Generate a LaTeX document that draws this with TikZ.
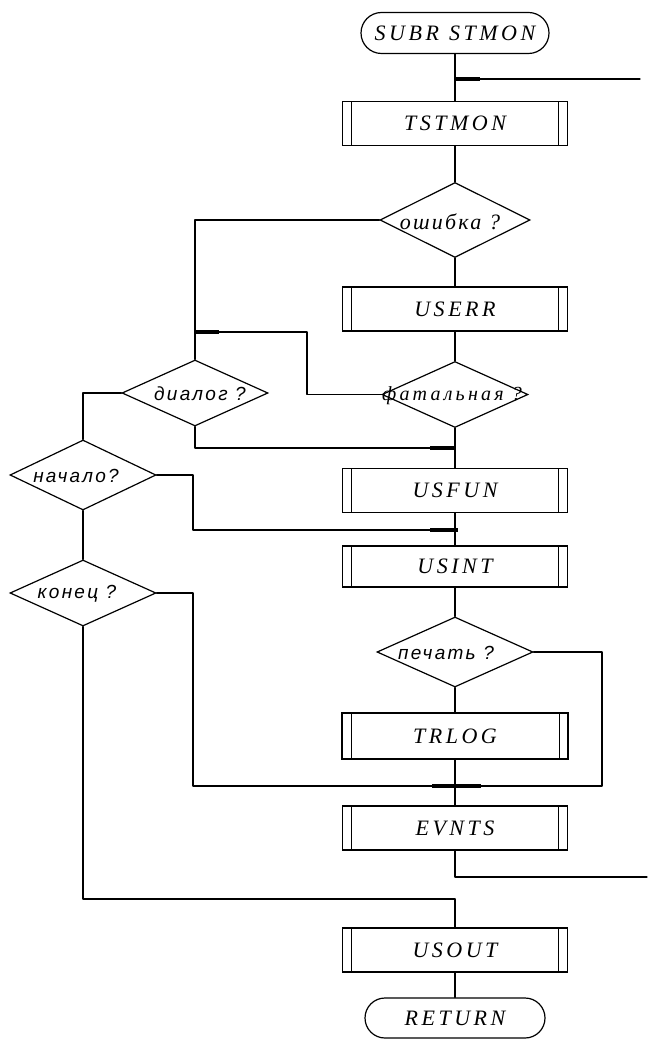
\documentclass[tikz,border=0pt]{standalone}
\usepackage{fontspec}
\setmainfont{Liberation Serif}
\newfontfamily\boxfont[LetterSpace=16]{Liberation Serif}
\newfontfamily\cursivefont[LetterSpace=10]{Liberation Serif}
\newfontfamily\askfont[LetterSpace=12]{Liberation Sans}
\usetikzlibrary{shapes.geometric,shapes.misc}
\tikzset{
  conn/.style={line width=1.1pt, line cap=round, line join=round},
  bar/.style={line width=3.6pt},
  proc/.style={draw, line width=1.2pt, rectangle, inner sep=0pt,
    minimum width=225pt, minimum height=44pt,
    font=\boxfont\itshape\fontsize{22}{22}\selectfont,
    path picture={
      \draw[line width=1pt] ([xshift=9pt]path picture bounding box.south west)
        -- ([xshift=9pt]path picture bounding box.north west);
      \draw[line width=1pt] ([xshift=-9pt]path picture bounding box.south east)
        -- ([xshift=-9pt]path picture bounding box.north east);
    }},
  term/.style={draw, line width=1.2pt, rounded rectangle, inner sep=0pt,
    minimum width=188pt, minimum height=41pt,
    font=\boxfont\itshape\fontsize{22}{22}\selectfont},
  dec/.style={draw, line width=1.2pt, diamond, inner sep=0pt},
  serifq/.style={font=\cursivefont\itshape\fontsize{22}{22}\selectfont, inner sep=0pt},
  sansq/.style={font=\askfont\itshape\fontsize{19}{19}\selectfont, inner sep=0pt}
}
\begin{document}
\begin{tikzpicture}[x=1pt,y=-1pt]
\useasboundingbox (0,0) rectangle (647,1040);

% main column
\node[term] (start) at (455,33) {SUBR\hspace{10pt}STMON};
\node[proc] (tst) at (455,123.5) {TSTMON};
\node[dec, minimum width=150pt, minimum height=75pt] (err) at (455,220) {};
\node[serifq] (errt) at (450,222) {ошибка ?};
\node[proc] (userr) at (455,309) {USERR};
\node[dec, minimum width=146pt, minimum height=66pt] (fat) at (455,394.5) {};
\node[serifq, font=\cursivefont\itshape\fontsize{20}{20}\selectfont\addfontfeature{LetterSpace=16}] (fatt) at (452,396) {фатальная ?};
\node[proc] (usfun) at (455,490.5) {USFUN};
\node[proc, minimum height=41pt] (usint) at (455,566.5) {USINT};
\node[dec, minimum width=156pt, minimum height=70pt] (pech) at (455,652) {};
\node[sansq] (pecht) at (446,653) {печать ?};
\node[proc, minimum width=226pt, minimum height=46pt] (trlog) at (455,736) {TRLOG};
\node[proc] (evnts) at (455,828) {EVNTS};
\node[proc] (usout) at (455,950) {USOUT};
\node[term, minimum width=180pt, minimum height=40pt] (ret) at (455,1018) {RETURN};

% left column of questions
\node[dec, minimum width=146pt, minimum height=66pt] (dial) at (195,393) {};
\node[sansq] (dialt) at (200,394) {диалог ?};
\node[dec, minimum width=146pt, minimum height=70pt] (nach) at (83,475) {};
\node[sansq] (nacht) at (76,476) {начало?};
\node[dec, minimum width=146pt, minimum height=66pt] (kon) at (83,593) {};
\node[sansq] (kont) at (77,594) {конец ?};

% junction points and bends
\coordinate (j1) at (455,79);
\coordinate (r1) at (640,79);
\coordinate (jd) at (195,332);
\coordinate (fk) at (307,332);
\coordinate (j2) at (455,448);
\coordinate (j3) at (455,530);
\coordinate (nk) at (193,530);
\coordinate (j4) at (455,786);
\coordinate (kk) at (193,786);
\coordinate (pk) at (602,786);
\coordinate (r2) at (647,877);
\coordinate (j5) at (455,899);

% connectors
\draw[conn] (start.south) -- (tst.north);
\draw[conn] (r1) -- (j1);
\draw[conn] (tst.south) -- (err.north);
\draw[conn] (err.south) -- (userr.north);
\draw[conn] (userr.south) -- (fat.north);
\draw[conn] (fat.south) -- (usfun.north);
\draw[conn] (usfun.south) -- (usint.north);
\draw[conn] (usint.south) -- (pech.north);
\draw[conn] (pech.south) -- (trlog.north);
\draw[conn] (trlog.south) -- (evnts.north);
\draw[conn] (evnts.south) |- (r2);
\draw[conn] (j5) -- (usout.north);
\draw[conn] (usout.south) -- (ret.north);

\draw[conn] (err.west) -| (jd) -- (dial.north);
\draw[conn] (fat.west) -| (fk) -- (jd);
\draw[conn] (dial.south) |- (j2);
\draw[conn] (dial.west) -| (nach.north);
\draw[conn] (nach.east) -| (nk) -- (j3);
\draw[conn] (nach.south) -- (kon.north);
\draw[conn] (kon.east) -| (kk) -- (j4);
\draw[conn] (kon.south) |- (j5);
\draw[conn] (pech.east) -| (pk) -- (j4);

% heavy marks where flows join
\draw[bar] (j1) -- ++(25,0);
\draw[bar] (jd) -- ++(24,0);
\draw[bar] (j2) -- ++(-25,0);
\draw[bar] (j3) -- ++(-25,0) (j3) -- ++(3,0);
\draw[bar] ([xshift=-23pt]j4) -- ([xshift=26pt]j4);
\end{tikzpicture}
\end{document}
